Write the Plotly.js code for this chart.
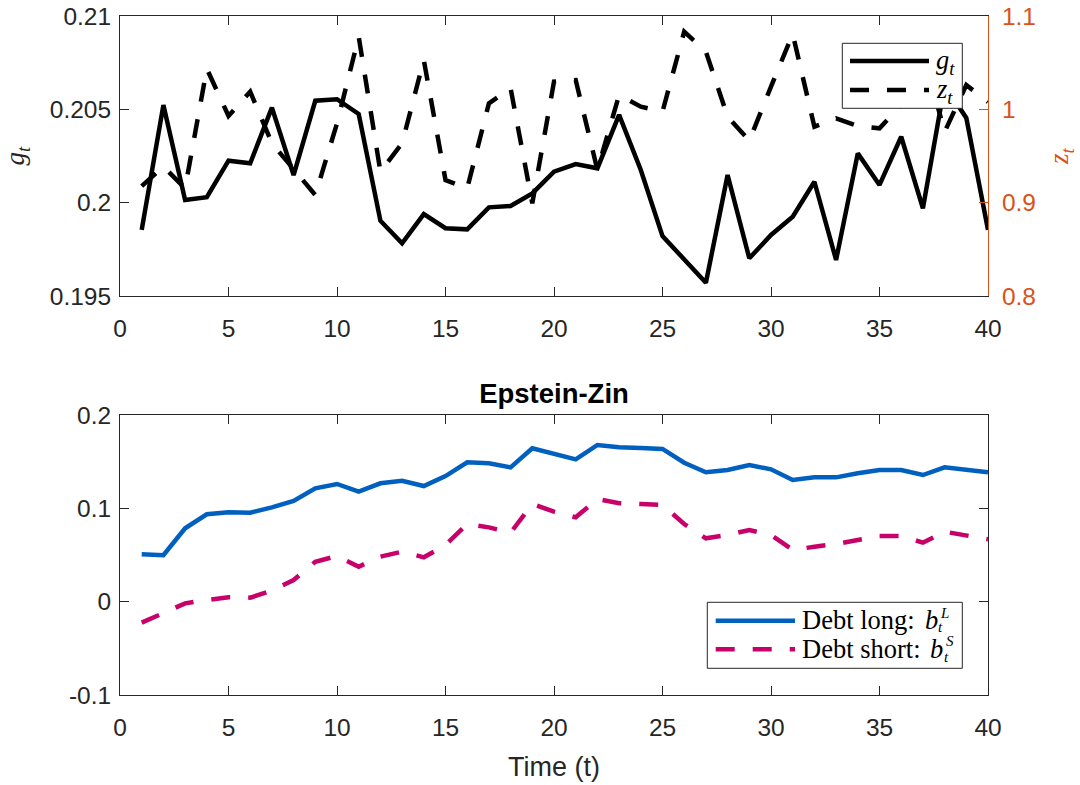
<!DOCTYPE html>
<html>
<head>
<meta charset="utf-8">
<script src="https://cdn.plot.ly/plotly-3.0.1.min.js"></script>
<style>html,body{margin:0;padding:0;background:#fff;}</style>
</head>
<body>
<div id="chart" style="width:1080px;height:785px;"></div>
<script>
// Periods
const periods = Array.from({length: 40}, (_, i) => i + 1);

// Top panel: g_t (left axis) and z_t (right axis)
const gT = [0.19854, 0.20523, 0.20014, 0.20029, 0.20225, 0.20211, 0.20509, 0.20148, 0.20546, 0.20554,
            0.20475, 0.19903, 0.19782, 0.19939, 0.19863, 0.19857, 0.19975, 0.19982, 0.20050, 0.20166,
            0.20207, 0.20184, 0.20470, 0.20175, 0.19821, 0.19693, 0.19571, 0.20148, 0.19702, 0.19827,
            0.19925, 0.20112, 0.19693, 0.20264, 0.20095, 0.20353, 0.19970, 0.20630, 0.20454, 0.19854];
const zT = [0.9177, 0.9386, 0.9154, 1.0435, 0.9929, 1.0189, 0.9636, 0.9357, 0.9082, 0.9850,
            1.0778, 0.9332, 0.9636, 1.0529, 0.9243, 0.9154, 1.0064, 1.0225, 0.8993, 1.0296,
            1.0314, 0.9350, 1.0154, 1.0029, 0.9975, 1.0832, 1.0618, 0.9921, 0.9664, 1.0243,
            1.0807, 0.9814, 0.9904, 0.9821, 0.9797, 1.0046, 1.0620, 0.9757, 1.0260, 1.0080];

// Bottom panel: Epstein-Zin debt positions
const debtLong = [0.0507, 0.0497, 0.0786, 0.0936, 0.0957, 0.0953, 0.1011, 0.1079, 0.1214, 0.1261,
                  0.1179, 0.1268, 0.1296, 0.1239, 0.1346, 0.1493, 0.1482, 0.1439, 0.1643, 0.1582,
                  0.1525, 0.1679, 0.1654, 0.1646, 0.1636, 0.1489, 0.1386, 0.1411, 0.1464, 0.1418,
                  0.1304, 0.1332, 0.1332, 0.1375, 0.1411, 0.1411, 0.1357, 0.1439, 0.1418, 0.1386];
const debtShort = [-0.0225, -0.0125, -0.0018, 0.0018, 0.0047, 0.0043, 0.0118, 0.0232, 0.0428, 0.0489,
                   0.0375, 0.0482, 0.0535, 0.0475, 0.0607, 0.0832, 0.0796, 0.0739, 0.1046, 0.0964,
                   0.0904, 0.1100, 0.1054, 0.1046, 0.1036, 0.0832, 0.0679, 0.0714, 0.0768, 0.0714,
                   0.0554, 0.0589, 0.0618, 0.0661, 0.0704, 0.0704, 0.0632, 0.0750, 0.0714, 0.0668];

// Tick values and labels
const xTicks = [0, 5, 10, 15, 20, 25, 30, 35, 40];
const gTicks = [0.195, 0.2, 0.205, 0.21];
const gTickText = ['0.195', '0.2', '0.205', '0.21'];
const zTicks = [0.8, 0.9, 1.0, 1.1];
const zTickText = ['0.8', '0.9', '1', '1.1'];
const debtTicks = [-0.1, 0, 0.1, 0.2];
const debtTickText = ['-0.1', '0', '0.1', '0.2'];

// Series labels: plain prefix, math symbol, subscript, superscript
const seriesLabels = [
  {base: '', sym: 'g', sub: 't', sup: ''},
  {base: '', sym: 'z', sub: 't', sup: ''},
  {base: 'Debt long:', sym: 'b', sub: 't', sup: 'L'},
  {base: 'Debt short:', sym: 'b', sub: 't', sup: 'S'}
];
const panelTitle = '<b>Epstein-Zin</b>';
const timeLabel = 'Time (t)';

const SANS = 'Liberation Sans, Arial, Helvetica, sans-serif';
const SERIF = 'Liberation Serif, Times New Roman, serif';
const GREY = '#262626';
const ORANGE = '#D95319';
const BLUE = '#0060C0';
const MAGENTA = '#C8006A';
const DASH = '19px,18px';
const LW = 4.5;

const seriesStyles = [
  {color: '#000000', dash: 'solid', xaxis: 'x', yaxis: 'y'},
  {color: '#000000', dash: DASH, xaxis: 'x', yaxis: 'y2'},
  {color: BLUE, dash: 'solid', xaxis: 'x2', yaxis: 'y3'},
  {color: MAGENTA, dash: DASH, xaxis: 'x2', yaxis: 'y3'}
];
const seriesData = [gT, zT, debtLong, debtShort];

const traces = seriesData.map((vals, i) => ({
  x: periods, y: vals, type: 'scatter', mode: 'lines',
  name: seriesLabels[i].base + ' ' + seriesLabels[i].sym + '_' + seriesLabels[i].sub + seriesLabels[i].sup,
  xaxis: seriesStyles[i].xaxis, yaxis: seriesStyles[i].yaxis, showlegend: false,
  line: {color: seriesStyles[i].color, width: LW, dash: seriesStyles[i].dash}
}));

const W = 1080, H = 785;
const px = v => v / W;          // pixel column -> paper x
const py = v => 1 - v / H;      // pixel row -> paper y
const xDom = [px(120), px(988)];
const topDom = [py(296), py(16)];
const botDom = [py(695), py(415)];

const tickFont = {family: SANS, size: 24.5, color: GREY};

function xAxis(anchor, title) {
  const ax = {
    domain: xDom, anchor: anchor, range: [0, 40], tickvals: xTicks, ticktext: xTicks.map(String),
    ticks: 'inside', ticklen: 9, tickwidth: 1, tickcolor: GREY, ticklabelstandoff: 11,
    showline: true, linecolor: GREY, linewidth: 1, mirror: 'ticks',
    showgrid: false, zeroline: false, tickfont: tickFont, fixedrange: true
  };
  if (title) ax.title = {text: title, font: {family: SANS, size: 27, color: GREY}, standoff: 16};
  return ax;
}

// Text measuring for placing the math part after the plain legend text
const LEG_SIZE = 26.5;
const SCRIPT_SIZE = 15;
const measureCtx = document.createElement('canvas').getContext('2d');
function textWidth(str, italic, size) {
  measureCtx.font = (italic ? 'italic ' : '') + size + 'px "Liberation Serif", "Times New Roman", serif';
  return measureCtx.measureText(str).width;
}

function note(x, y, text, size) {
  return {xref: 'paper', yref: 'paper', x: px(x), y: py(y), xanchor: 'left', yanchor: 'middle',
          showarrow: false, text: text, font: {family: SERIF, size: size, color: '#000000'}};
}

// Boxed legends: frame, line samples and labels in page coordinates
const legendBoxes = [
  {x0: 842.3, x1: 962.3, y0: 43.3, y1: 108.3, rows: [61, 90], sx0: 850, sx1: 929, tx: 934, items: [0, 1]},
  {x0: 707.3, x1: 962.3, y0: 602.3, y1: 668.3, rows: [620.7, 649.3], sx0: 715.7, sx1: 795, tx: 800, items: [2, 3]}
];
const shapes = [];
const annotations = [];
legendBoxes.forEach(b => {
  shapes.push({type: 'rect', xref: 'paper', yref: 'paper', layer: 'above',
               x0: px(b.x0), x1: px(b.x1), y0: py(b.y1), y1: py(b.y0),
               fillcolor: '#ffffff', line: {color: GREY, width: 1}});
  b.items.forEach((idx, k) => {
    const lab = seriesLabels[idx];
    const row = b.rows[k];
    shapes.push({type: 'line', xref: 'paper', yref: 'paper', layer: 'above',
                 x0: px(b.sx0), x1: px(b.sx1), y0: py(row), y1: py(row),
                 line: {color: seriesStyles[idx].color, width: LW, dash: seriesStyles[idx].dash}});
    if (!lab.sup) {
      // single subscript: inline
      annotations.push(note(b.tx, row + 1, '<i>' + lab.sym + '<sub>' + lab.sub + '</sub></i>', LEG_SIZE));
      return;
    }
    // plain text, then the symbol with a stacked subscript and superscript
    const yText = row - 1 + k;
    annotations.push(note(b.tx, yText, lab.base, LEG_SIZE));
    const xSym = b.tx + textWidth(lab.base, false, LEG_SIZE) + 10;
    annotations.push(note(xSym, yText, '<i>' + lab.sym + '</i>', LEG_SIZE));
    const xScr = xSym + textWidth(lab.sym, true, LEG_SIZE);
    annotations.push(note(xScr, row + (k === 0 ? 6 : 7.5), '<i>' + lab.sub + '</i>', SCRIPT_SIZE));
    annotations.push(note(xScr + 2, row - 8, '<i>' + lab.sup + '</i>', SCRIPT_SIZE));
  });
});

const layout = {
  width: W, height: H,
  margin: {l: 0, r: 0, t: 0, b: 0},
  paper_bgcolor: '#ffffff', plot_bgcolor: '#ffffff',
  font: {family: SANS, size: 24.5, color: GREY},
  showlegend: false,
  title: {text: panelTitle, x: px(554), xanchor: 'center', y: py(393), yanchor: 'middle',
          font: {family: SANS, size: 27.5, color: '#000000'}},
  xaxis: xAxis('y', null),
  xaxis2: xAxis('y3', timeLabel),
  yaxis: {
    domain: topDom, anchor: 'x', range: [0.195, 0.21], tickvals: gTicks, ticktext: gTickText,
    ticks: 'inside', ticklen: 9, tickwidth: 1, tickcolor: GREY, ticklabelstandoff: 3,
    showline: true, linecolor: GREY, linewidth: 1,
    showgrid: false, zeroline: false, tickfont: tickFont, fixedrange: true,
    title: {text: '<i>g<sub>t</sub></i>', font: {family: SERIF, size: 27, color: GREY}, standoff: 26}
  },
  yaxis2: {
    overlaying: 'y', side: 'right', anchor: 'x', range: [0.8, 1.1], tickvals: zTicks, ticktext: zTickText,
    ticks: 'inside', ticklen: 9, tickwidth: 1, tickcolor: ORANGE, ticklabelstandoff: 8,
    showline: true, linecolor: ORANGE, linewidth: 1,
    showgrid: false, zeroline: false, tickfont: {family: SANS, size: 24.5, color: ORANGE}, fixedrange: true,
    title: {text: '<i>z<sub>t</sub></i>', font: {family: SERIF, size: 27, color: ORANGE}, standoff: 14}
  },
  yaxis3: {
    domain: botDom, anchor: 'x2', range: [-0.1, 0.2], tickvals: debtTicks, ticktext: debtTickText,
    ticks: 'inside', ticklen: 9, tickwidth: 1, tickcolor: GREY, ticklabelstandoff: 3,
    showline: true, linecolor: GREY, linewidth: 1, mirror: 'ticks',
    showgrid: false, zeroline: false, tickfont: tickFont, fixedrange: true
  },
  shapes: shapes,
  annotations: annotations
};

Plotly.newPlot('chart', traces, layout, {displayModeBar: false, staticPlot: true});
</script>
</body>
</html>
